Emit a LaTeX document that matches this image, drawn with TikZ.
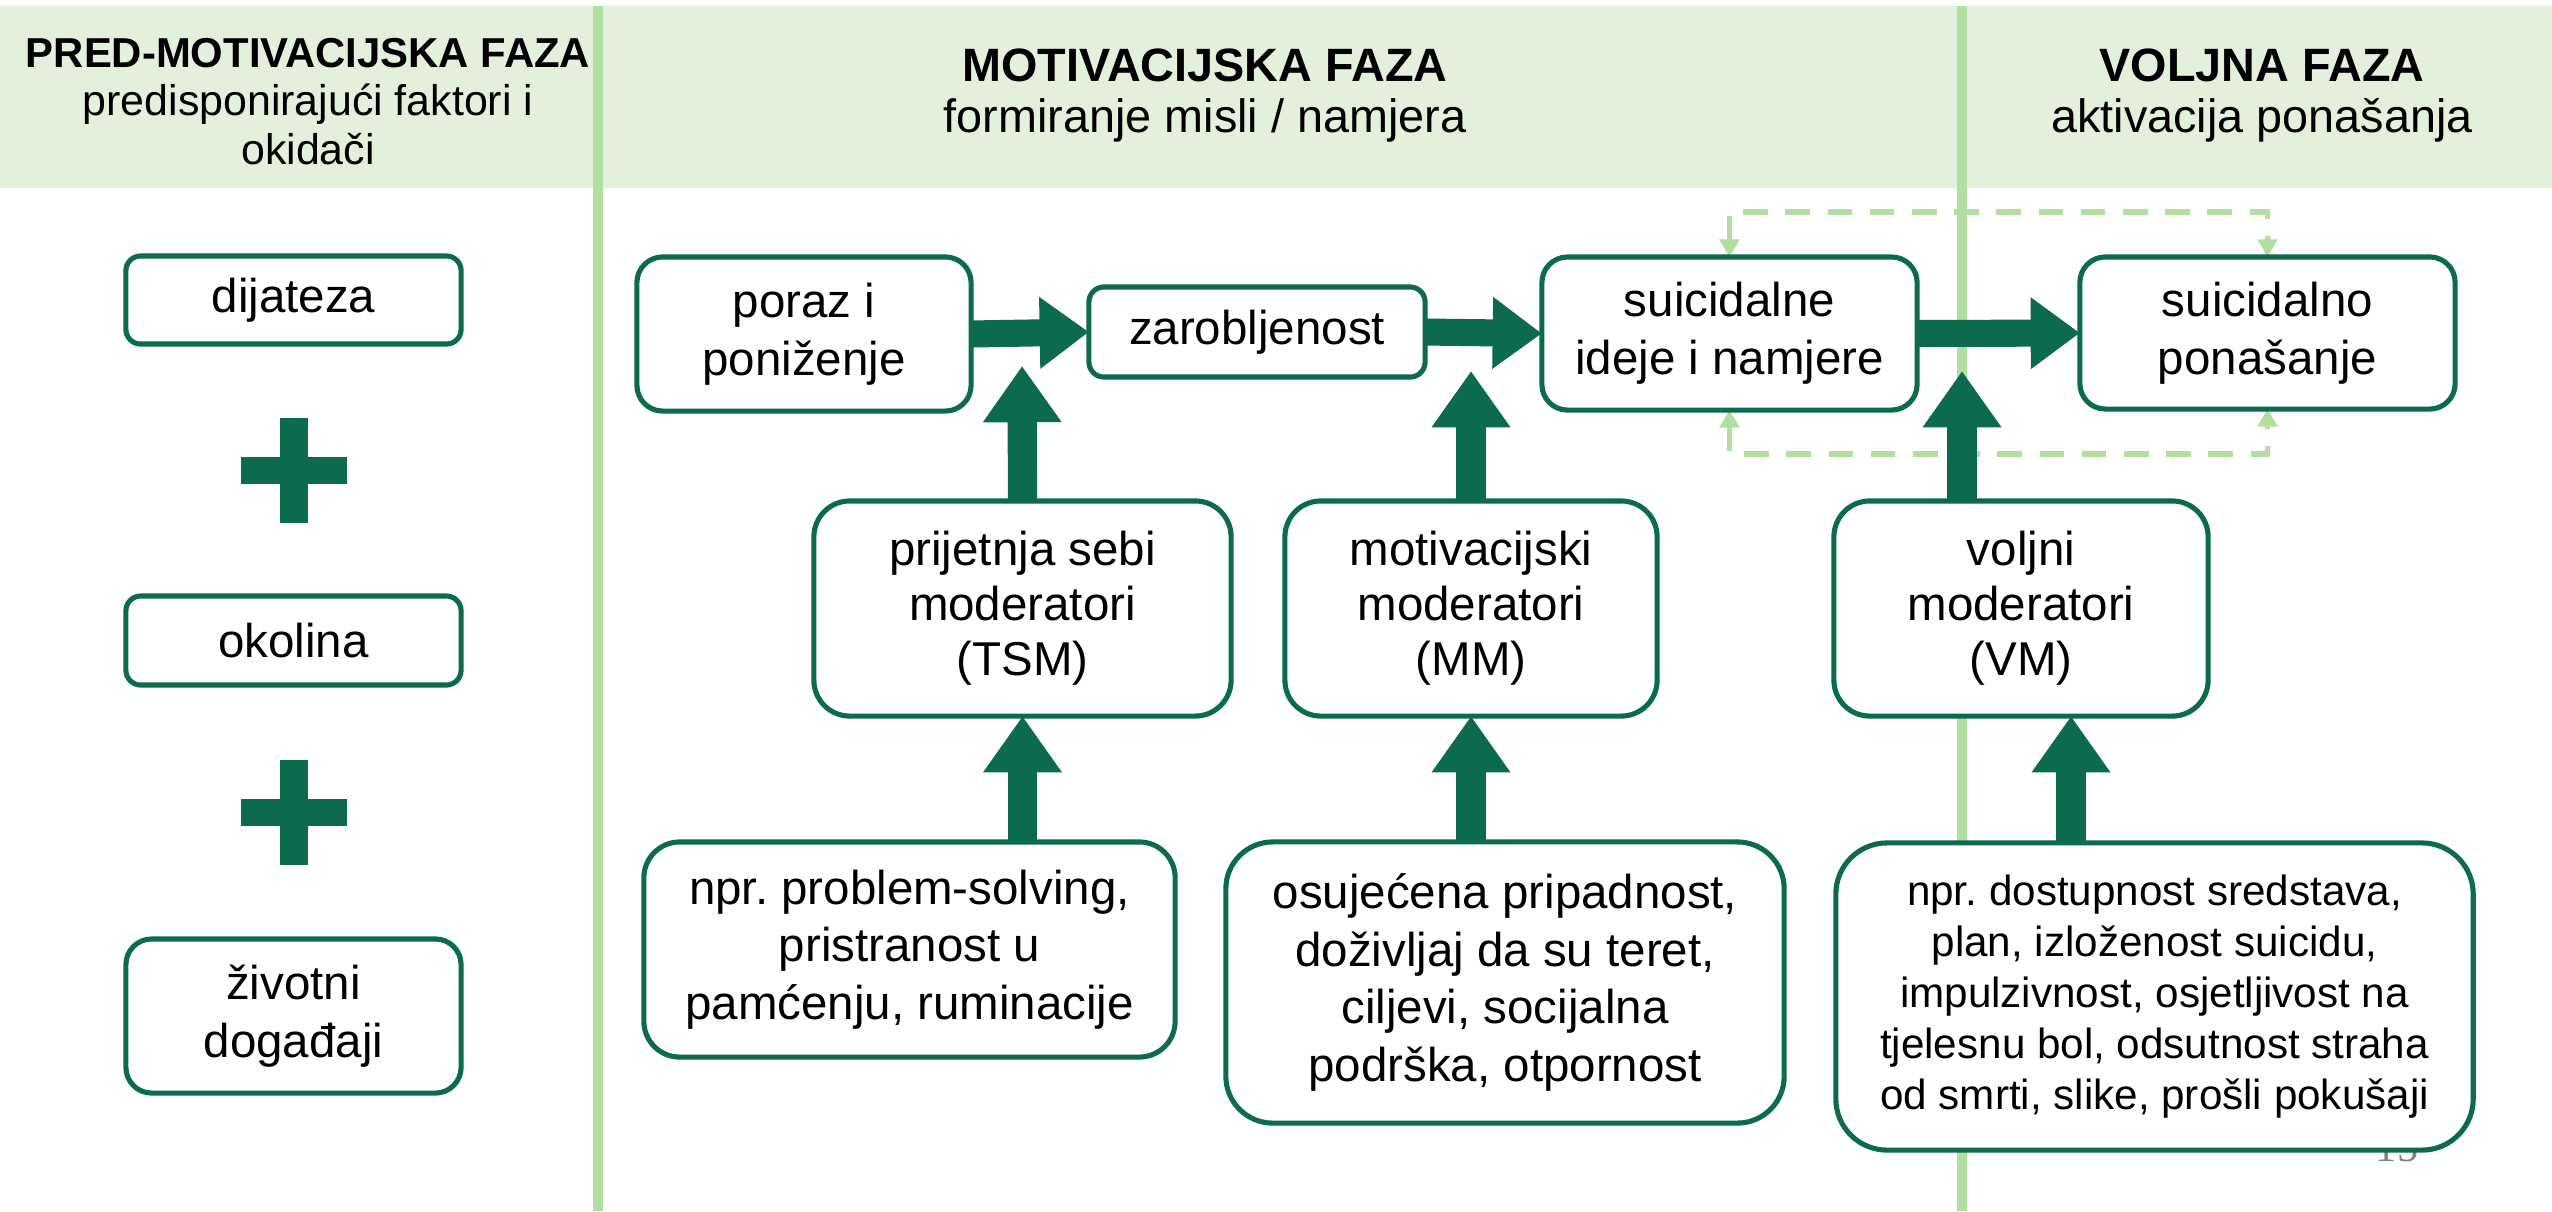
\documentclass[tikz,border=0pt]{standalone}
\usepackage{fontspec}
\setmainfont{Liberation Sans}
\newfontfamily\numfont{Liberation Serif}
\usetikzlibrary{arrows.meta}
\definecolor{dg}{HTML}{0C6A4E}
\definecolor{band}{HTML}{E3F1DC}
\definecolor{lg}{HTML}{B2DEA0}
\newcommand\mainsz{\fontsize{13.5}{16.4}\selectfont}
\newcommand\modsz{\fontsize{13.5}{15.6}\selectfont}
\newcommand\smallsz{\fontsize{12}{14.5}\selectfont}
\newcommand\bx[7][]{%
 \pgfmathsetmacro\bw{(#5-#3)*0.284528}%
 \pgfmathsetmacro\bh{(#6-#4)*0.284528}%
 \pgfmathsetmacro\br{0.1667*min(\bw,\bh)}%
 \node[boxst,minimum width=\bw pt,minimum height=\bh pt,rounded corners=\br pt,#1] (#2) at ({(#3+#5)/2},{(#4+#6)/2}) {#7};}
\tikzset{
 boxst/.style={draw=dg, line width=1.45pt, fill=white, align=center, inner sep=0pt, outer sep=0pt, font=\mainsz, text=black},
 harrow/.style={dg, line width=7.7pt, -{Triangle[width=19.5pt,length=14pt]}},
 varrow/.style={dg, line width=8.3pt, -{Triangle[width=21.3pt,length=16pt]}},
 dashc/.style={lg, line width=1.5pt, dash pattern=on 7pt off 5pt, {Triangle[width=5.5pt,length=5pt]}-{Triangle[width=5.5pt,length=5pt]}},
 phaseline/.style={lg, line width=3.1pt},
 hbold/.style={anchor=base, font=\bfseries\fontsize{13.3}{16}\selectfont},
 hsub/.style={anchor=base, font=\fontsize{13.3}{16}\selectfont},
}
\begin{document}
\frenchspacing
\begin{tikzpicture}[x=0.01cm,y=-0.01cm]
\useasboundingbox (0,0) rectangle (2552,1211);
\fill[white] (0,0) rectangle (2552,1211);
% header band
\fill[band] (0,6) rectangle (2552,188);
% phase lines
\draw[phaseline] (598,6) -- (598,1211);
\draw[phaseline] (1962,6) -- (1962,1211);
% header texts
\node[hbold, font=\bfseries\fontsize{11.9}{14}\selectfont] (h1a) at (308,67) {PRED-MOTIVACIJSKA FAZA};
\node[hsub, font=\fontsize{12.2}{14}\selectfont] (h1b) at (308,115) {predisponirajući faktori i};
\node[hsub, font=\fontsize{12.2}{14}\selectfont] (h1c) at (308,164) {okidači};
\node[hbold] (h2a) at (1205,81) {MOTIVACIJSKA FAZA};
\node[hsub] (h2b) at (1205,132) {formiranje misli / namjera};
\node[hbold] (h3a) at (2262,81) {VOLJNA FAZA};
\node[hsub] (h3b) at (2262,132) {aktivacija ponašanja};
% page number (mostly hidden)
\node[anchor=base, text=gray, font=\numfont\fontsize{12}{14}\selectfont] (pg) at (2397,1161) {15};
% dashed feedback connectors
\draw[dashc] (1729.5,257) -- (1729.5,212) -| (2267.5,257);
\draw[dashc] (1729.5,410) -- (1729.5,454) -| (2267.5,409);
% left column
\bx{dij}{126}{256}{461}{344}{dijateza}
\bx{oko}{126}{596}{461}{685}{okolina}
\bx{ziv}{126}{939}{461}{1093}{životni\\događaji}
\fill[dg] (241,457) rectangle (347,484);
\fill[dg] (280,418) rectangle (308,523);
\fill[dg] (241,799) rectangle (347,826);
\fill[dg] (280,760) rectangle (308,865);
% main row
\bx{poraz}{637}{257}{971}{411}{poraz i\\poniženje}
\bx{zarob}{1089}{287}{1425}{377}{zarobljenost}
\bx{sui}{1542}{257}{1917}{410}{suicidalne\\ideje i namjere}
\bx{pon}{2080}{257}{2455}{409}{suicidalno\\ponašanje}
% moderators
\bx[font=\modsz]{tsm}{814}{501}{1231}{716}{prijetnja sebi\\moderatori\\(TSM)}
\bx[font=\modsz]{mm}{1285}{501}{1657}{716}{motivacijski\\moderatori\\(MM)}
\bx[font=\modsz]{vm}{1834}{501}{2208}{716}{voljni\\moderatori\\(VM)}
% examples
\bx{tsmx}{644}{842}{1175}{1057}{npr. problem-solving,\\pristranost u\\pamćenju, ruminacije}
\bx{mmx}{1226}{842}{1784}{1123}{osujećena pripadnost,\\doživljaj da su teret,\\ciljevi, socijalna\\podrška, otpornost}
\bx[font=\smallsz]{vmx}{1836}{843}{2473}{1150}{npr. dostupnost sredstava,\\plan, izloženost suicidu,\\impulzivnost, osjetljivost na\\tjelesnu bol, odsutnost straha\\od smrti, slike, prošli pokušaji}
% big arrows
\draw[harrow] (poraz.east) -- (zarob.west);
\draw[harrow] (zarob.east) -- (sui.west);
\draw[harrow] (sui.east) -- (pon.west);
\coordinate (tsmTip) at (1022,366);
\coordinate (mmTip) at (1471,371);
\coordinate (vmTip) at (1962,371);
\coordinate (vmCol) at (2071,0);
\draw[varrow] (tsm.north) -- (tsmTip);
\draw[varrow] (mm.north) -- (mmTip);
\draw[varrow] (vm.north -| vmTip) -- (vmTip);
\draw[varrow] (tsmx.north -| tsm.south) -- (tsm.south);
\draw[varrow] (mmx.north -| mm.south) -- (mm.south);
\draw[varrow] (vmx.north -| vmCol) -- (vm.south -| vmCol);
\end{tikzpicture}
\end{document}
